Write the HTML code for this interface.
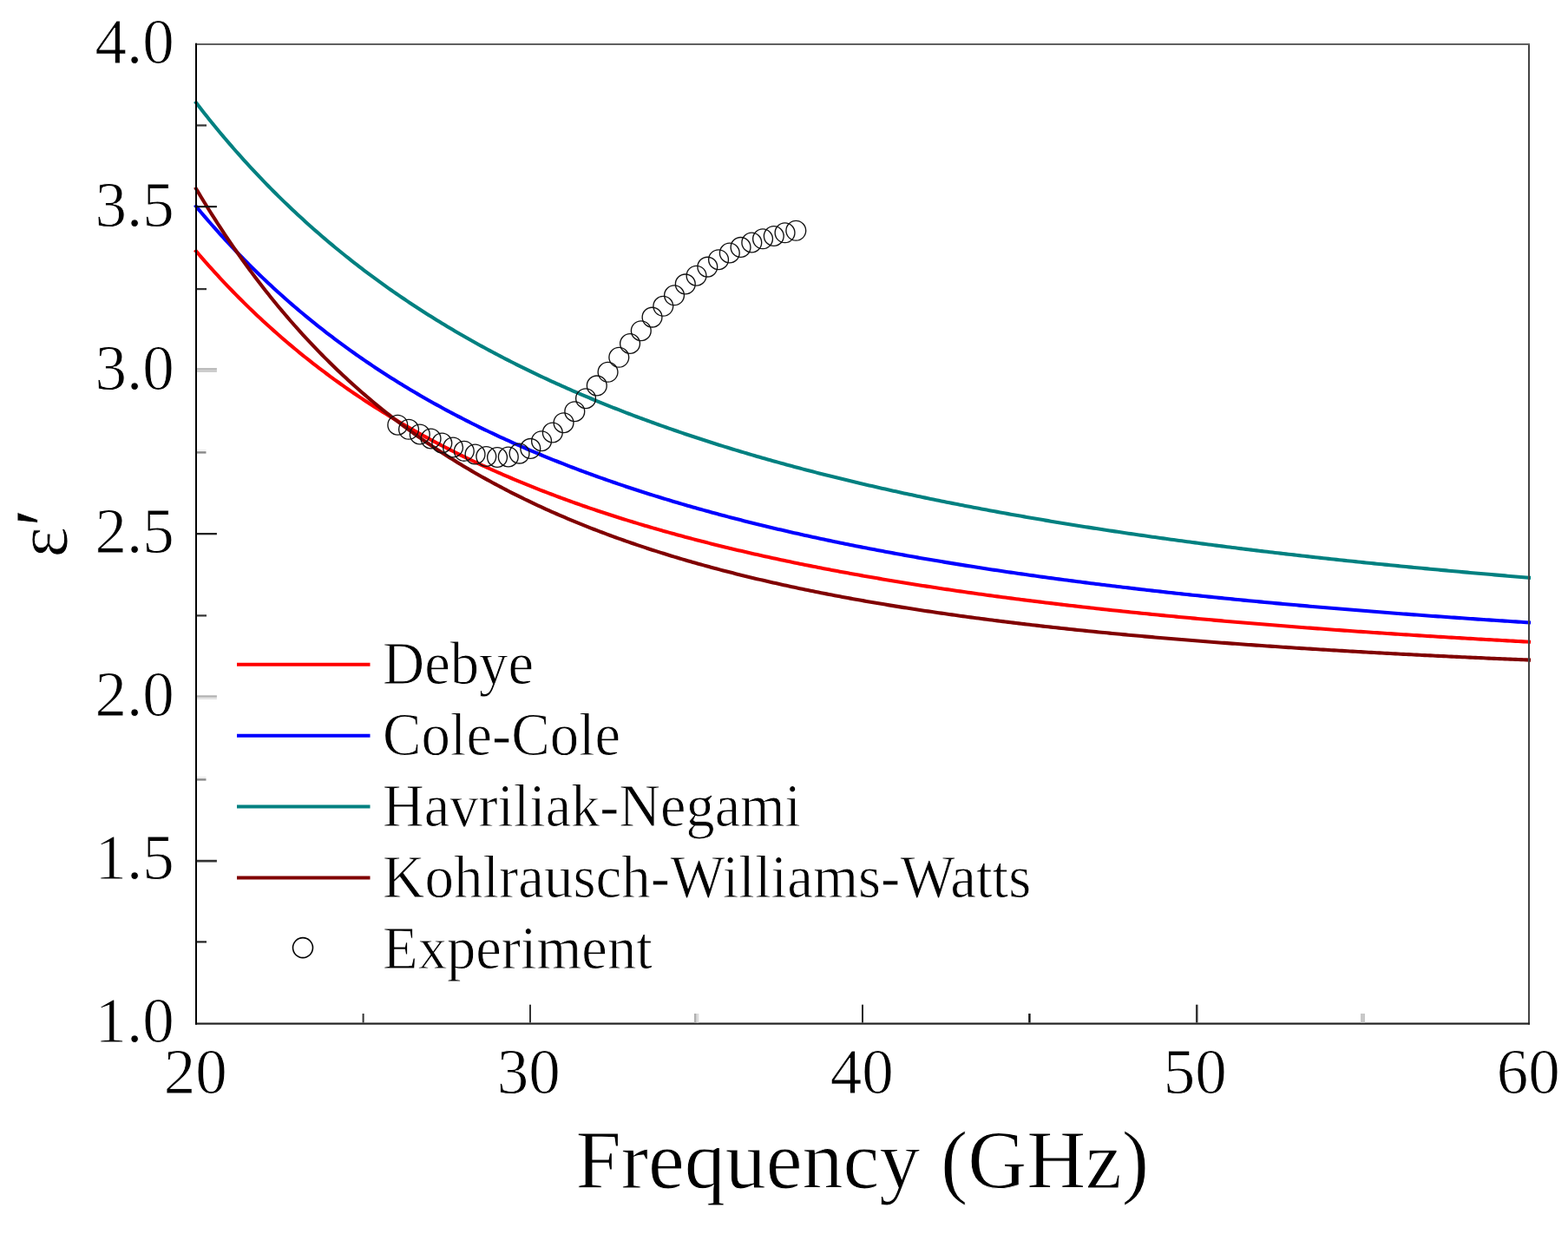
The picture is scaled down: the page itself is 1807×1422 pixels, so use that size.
<!DOCTYPE html>
<html><head><meta charset="utf-8"><title>Permittivity vs Frequency</title>
<style>html,body{margin:0;padding:0;background:#fff;overflow:hidden}svg{display:block}</style>
</head><body>
<svg width="1807" height="1422" viewBox="0 0 1807 1422">
<rect width="1807" height="1422" fill="#ffffff"/>
<path d="M226.00,118.33 L229.08,122.33 L232.16,126.28 L235.23,130.20 L238.31,134.08 L241.39,137.93 L244.47,141.74 L247.55,145.52 L250.63,149.26 L253.70,152.96 L256.78,156.63 L259.86,160.27 L262.94,163.88 L266.02,167.45 L269.09,170.99 L272.17,174.50 L275.25,177.97 L278.33,181.42 L281.41,184.84 L284.48,188.22 L287.56,191.57 L290.64,194.90 L293.72,198.19 L296.80,201.46 L299.88,204.70 L302.95,207.91 L306.03,211.09 L309.11,214.24 L312.19,217.37 L315.27,220.47 L318.34,223.54 L321.42,226.59 L324.50,229.61 L327.58,232.60 L330.66,235.57 L333.74,238.51 L336.81,241.43 L339.89,244.32 L342.97,247.19 L346.05,250.04 L349.13,252.86 L352.20,255.66 L355.28,258.44 L358.36,261.19 L361.44,263.92 L364.52,266.62 L367.60,269.31 L370.67,271.97 L373.75,274.61 L376.83,277.23 L379.91,279.83 L382.99,282.41 L386.06,284.96 L389.14,287.50 L392.22,290.02 L395.30,292.51 L398.38,294.99 L401.45,297.44 L404.53,299.88 L407.61,302.30 L410.69,304.69 L413.77,307.07 L416.85,309.43 L419.92,311.77 L423.00,314.10 L426.08,316.40 L429.16,318.69 L432.24,320.96 L435.31,323.21 L438.39,325.45 L441.47,327.67 L444.55,329.87 L447.63,332.05 L450.71,334.22 L453.78,336.37 L456.86,338.51 L459.94,340.62 L463.02,342.73 L466.10,344.81 L469.17,346.88 L472.25,348.94 L475.33,350.98 L478.41,353.01 L481.49,355.02 L484.57,357.01 L487.64,358.99 L490.72,360.96 L493.80,362.91 L496.88,364.85 L499.96,366.77 L503.03,368.68 L506.11,370.58 L509.19,372.46 L512.27,374.33 L515.35,376.18 L518.42,378.02 L521.50,379.85 L524.58,381.67 L527.66,383.47 L530.74,385.26 L533.82,387.04 L536.89,388.80 L539.97,390.55 L543.05,392.29 L546.13,394.02 L549.21,395.74 L552.28,397.44 L555.36,399.13 L558.44,400.81 L561.52,402.48 L564.60,404.13 L567.68,405.78 L570.75,407.41 L573.83,409.04 L576.91,410.65 L579.99,412.25 L583.07,413.84 L586.14,415.42 L589.22,416.98 L592.30,418.54 L595.38,420.09 L598.46,421.63 L601.54,423.15 L604.61,424.67 L607.69,426.17 L610.77,427.67 L613.85,429.16 L616.93,430.63 L620.00,432.10 L623.08,433.56 L626.16,435.00 L629.24,436.44 L632.32,437.87 L635.39,439.29 L638.47,440.70 L641.55,442.10 L644.63,443.49 L647.71,444.87 L650.79,446.24 L653.86,447.61 L656.94,448.96 L660.02,450.31 L663.10,451.65 L666.18,452.98 L669.25,454.30 L672.33,455.62 L675.41,456.92 L678.49,458.22 L681.57,459.50 L684.65,460.78 L687.72,462.06 L690.80,463.32 L693.88,464.58 L696.96,465.83 L700.04,467.07 L703.11,468.30 L706.19,469.53 L709.27,470.74 L712.35,471.95 L715.43,473.16 L718.51,474.35 L721.58,475.54 L724.66,476.72 L727.74,477.89 L730.82,479.06 L733.90,480.22 L736.97,481.37 L740.05,482.52 L743.13,483.66 L746.21,484.79 L749.29,485.91 L752.36,487.03 L755.44,488.14 L758.52,489.25 L761.60,490.35 L764.68,491.44 L767.76,492.52 L770.83,493.60 L773.91,494.67 L776.99,495.74 L780.07,496.80 L783.15,497.85 L786.22,498.90 L789.30,499.94 L792.38,500.98 L795.46,502.01 L798.54,503.03 L801.62,504.05 L804.69,505.06 L807.77,506.07 L810.85,507.07 L813.93,508.06 L817.01,509.05 L820.08,510.03 L823.16,511.01 L826.24,511.98 L829.32,512.95 L832.40,513.91 L835.47,514.86 L838.55,515.81 L841.63,516.76 L844.71,517.70 L847.79,518.63 L850.87,519.56 L853.94,520.48 L857.02,521.40 L860.10,522.31 L863.18,523.22 L866.26,524.13 L869.33,525.02 L872.41,525.92 L875.49,526.81 L878.57,527.69 L881.65,528.57 L884.73,529.44 L887.80,530.31 L890.88,531.17 L893.96,532.03 L897.04,532.89 L900.12,533.74 L903.19,534.58 L906.27,535.43 L909.35,536.26 L912.43,537.09 L915.51,537.92 L918.59,538.74 L921.66,539.56 L924.74,540.38 L927.82,541.19 L930.90,541.99 L933.98,542.80 L937.05,543.59 L940.13,544.39 L943.21,545.17 L946.29,545.96 L949.37,546.74 L952.44,547.52 L955.52,548.29 L958.60,549.06 L961.68,549.82 L964.76,550.58 L967.84,551.34 L970.91,552.09 L973.99,552.84 L977.07,553.58 L980.15,554.32 L983.23,555.06 L986.30,555.79 L989.38,556.52 L992.46,557.25 L995.54,557.97 L998.62,558.69 L1001.70,559.41 L1004.77,560.12 L1007.85,560.82 L1010.93,561.53 L1014.01,562.23 L1017.09,562.93 L1020.16,563.62 L1023.24,564.31 L1026.32,565.00 L1029.40,565.68 L1032.48,566.36 L1035.56,567.03 L1038.63,567.71 L1041.71,568.38 L1044.79,569.04 L1047.87,569.71 L1050.95,570.37 L1054.02,571.02 L1057.10,571.67 L1060.18,572.32 L1063.26,572.97 L1066.34,573.62 L1069.41,574.26 L1072.49,574.89 L1075.57,575.53 L1078.65,576.16 L1081.73,576.79 L1084.81,577.41 L1087.88,578.03 L1090.96,578.65 L1094.04,579.27 L1097.12,579.88 L1100.20,580.49 L1103.27,581.10 L1106.35,581.70 L1109.43,582.30 L1112.51,582.90 L1115.59,583.50 L1118.67,584.09 L1121.74,584.68 L1124.82,585.27 L1127.90,585.85 L1130.98,586.44 L1134.06,587.01 L1137.13,587.59 L1140.21,588.16 L1143.29,588.74 L1146.37,589.30 L1149.45,589.87 L1152.53,590.43 L1155.60,590.99 L1158.68,591.55 L1161.76,592.11 L1164.84,592.66 L1167.92,593.21 L1170.99,593.76 L1174.07,594.30 L1177.15,594.84 L1180.23,595.38 L1183.31,595.92 L1186.38,596.46 L1189.46,596.99 L1192.54,597.52 L1195.62,598.05 L1198.70,598.57 L1201.78,599.10 L1204.85,599.62 L1207.93,600.13 L1211.01,600.65 L1214.09,601.16 L1217.17,601.68 L1220.24,602.18 L1223.32,602.69 L1226.40,603.20 L1229.48,603.70 L1232.56,604.20 L1235.64,604.70 L1238.71,605.19 L1241.79,605.68 L1244.87,606.18 L1247.95,606.66 L1251.03,607.15 L1254.10,607.64 L1257.18,608.12 L1260.26,608.60 L1263.34,609.08 L1266.42,609.55 L1269.49,610.03 L1272.57,610.50 L1275.65,610.97 L1278.73,611.44 L1281.81,611.90 L1284.89,612.37 L1287.96,612.83 L1291.04,613.29 L1294.12,613.75 L1297.20,614.20 L1300.28,614.66 L1303.35,615.11 L1306.43,615.56 L1309.51,616.01 L1312.59,616.45 L1315.67,616.90 L1318.75,617.34 L1321.82,617.78 L1324.90,618.22 L1327.98,618.66 L1331.06,619.09 L1334.14,619.53 L1337.21,619.96 L1340.29,620.39 L1343.37,620.81 L1346.45,621.24 L1349.53,621.66 L1352.61,622.09 L1355.68,622.51 L1358.76,622.93 L1361.84,623.34 L1364.92,623.76 L1368.00,624.17 L1371.07,624.59 L1374.15,625.00 L1377.23,625.40 L1380.31,625.81 L1383.39,626.22 L1386.46,626.62 L1389.54,627.02 L1392.62,627.42 L1395.70,627.82 L1398.78,628.22 L1401.86,628.61 L1404.93,629.01 L1408.01,629.40 L1411.09,629.79 L1414.17,630.18 L1417.25,630.56 L1420.32,630.95 L1423.40,631.33 L1426.48,631.72 L1429.56,632.10 L1432.64,632.48 L1435.72,632.86 L1438.79,633.23 L1441.87,633.61 L1444.95,633.98 L1448.03,634.35 L1451.11,634.72 L1454.18,635.09 L1457.26,635.46 L1460.34,635.83 L1463.42,636.19 L1466.50,636.55 L1469.58,636.92 L1472.65,637.28 L1475.73,637.64 L1478.81,637.99 L1481.89,638.35 L1484.97,638.70 L1488.04,639.06 L1491.12,639.41 L1494.20,639.76 L1497.28,640.11 L1500.36,640.46 L1503.43,640.80 L1506.51,641.15 L1509.59,641.49 L1512.67,641.84 L1515.75,642.18 L1518.83,642.52 L1521.90,642.86 L1524.98,643.19 L1528.06,643.53 L1531.14,643.86 L1534.22,644.20 L1537.29,644.53 L1540.37,644.86 L1543.45,645.19 L1546.53,645.52 L1549.61,645.84 L1552.69,646.17 L1555.76,646.49 L1558.84,646.82 L1561.92,647.14 L1565.00,647.46 L1568.08,647.78 L1571.15,648.10 L1574.23,648.42 L1577.31,648.73 L1580.39,649.05 L1583.47,649.36 L1586.55,649.67 L1589.62,649.99 L1592.70,650.30 L1595.78,650.60 L1598.86,650.91 L1601.94,651.22 L1605.01,651.53 L1608.09,651.83 L1611.17,652.13 L1614.25,652.44 L1617.33,652.74 L1620.40,653.04 L1623.48,653.34 L1626.56,653.63 L1629.64,653.93 L1632.72,654.23 L1635.80,654.52 L1638.87,654.81 L1641.95,655.11 L1645.03,655.40 L1648.11,655.69 L1651.19,655.98 L1654.26,656.27 L1657.34,656.55 L1660.42,656.84 L1663.50,657.12 L1666.58,657.41 L1669.66,657.69 L1672.73,657.97 L1675.81,658.25 L1678.89,658.53 L1681.97,658.81 L1685.05,659.09 L1688.12,659.37 L1691.20,659.64 L1694.28,659.92 L1697.36,660.19 L1700.44,660.47 L1703.52,660.74 L1706.59,661.01 L1709.67,661.28 L1712.75,661.55 L1715.83,661.82 L1718.91,662.08 L1721.98,662.35 L1725.06,662.61 L1728.14,662.88 L1731.22,663.14 L1734.30,663.41 L1737.37,663.67 L1740.45,663.93 L1743.53,664.19 L1746.61,664.45 L1749.69,664.70 L1752.77,664.96 L1755.84,665.22 L1758.92,665.47 L1762.00,665.73" fill="none" stroke="#008080" stroke-width="4.1" stroke-linecap="square" stroke-linejoin="round"/>
<path d="M226.00,237.88 L229.08,241.57 L232.16,245.22 L235.23,248.84 L238.31,252.42 L241.39,255.97 L244.47,259.48 L247.55,262.97 L250.63,266.41 L253.70,269.83 L256.78,273.21 L259.86,276.57 L262.94,279.89 L266.02,283.18 L269.09,286.44 L272.17,289.67 L275.25,292.87 L278.33,296.04 L281.41,299.18 L284.48,302.29 L287.56,305.37 L290.64,308.43 L293.72,311.45 L296.80,314.45 L299.88,317.43 L302.95,320.37 L306.03,323.29 L309.11,326.18 L312.19,329.05 L315.27,331.89 L318.34,334.71 L321.42,337.50 L324.50,340.26 L327.58,343.01 L330.66,345.72 L333.74,348.42 L336.81,351.09 L339.89,353.73 L342.97,356.36 L346.05,358.96 L349.13,361.53 L352.20,364.09 L355.28,366.62 L358.36,369.13 L361.44,371.62 L364.52,374.09 L367.60,376.54 L370.67,378.96 L373.75,381.37 L376.83,383.76 L379.91,386.12 L382.99,388.46 L386.06,390.79 L389.14,393.10 L392.22,395.38 L395.30,397.65 L398.38,399.90 L401.45,402.13 L404.53,404.34 L407.61,406.53 L410.69,408.70 L413.77,410.86 L416.85,413.00 L419.92,415.12 L423.00,417.22 L426.08,419.31 L429.16,421.38 L432.24,423.43 L435.31,425.47 L438.39,427.49 L441.47,429.49 L444.55,431.48 L447.63,433.45 L450.71,435.40 L453.78,437.34 L456.86,439.27 L459.94,441.18 L463.02,443.07 L466.10,444.95 L469.17,446.81 L472.25,448.66 L475.33,450.50 L478.41,452.32 L481.49,454.12 L484.57,455.91 L487.64,457.69 L490.72,459.46 L493.80,461.21 L496.88,462.94 L499.96,464.67 L503.03,466.38 L506.11,468.07 L509.19,469.76 L512.27,471.43 L515.35,473.09 L518.42,474.73 L521.50,476.37 L524.58,477.99 L527.66,479.60 L530.74,481.19 L533.82,482.78 L536.89,484.35 L539.97,485.91 L543.05,487.46 L546.13,489.00 L549.21,490.53 L552.28,492.04 L555.36,493.55 L558.44,495.04 L561.52,496.52 L564.60,497.99 L567.68,499.45 L570.75,500.90 L573.83,502.34 L576.91,503.77 L579.99,505.19 L583.07,506.59 L586.14,507.99 L589.22,509.38 L592.30,510.76 L595.38,512.12 L598.46,513.48 L601.54,514.83 L604.61,516.17 L607.69,517.50 L610.77,518.82 L613.85,520.13 L616.93,521.43 L620.00,522.72 L623.08,524.00 L626.16,525.28 L629.24,526.54 L632.32,527.80 L635.39,529.05 L638.47,530.28 L641.55,531.51 L644.63,532.73 L647.71,533.95 L650.79,535.15 L653.86,536.35 L656.94,537.54 L660.02,538.72 L663.10,539.89 L666.18,541.05 L669.25,542.21 L672.33,543.36 L675.41,544.50 L678.49,545.63 L681.57,546.75 L684.65,547.87 L687.72,548.98 L690.80,550.08 L693.88,551.18 L696.96,552.27 L700.04,553.35 L703.11,554.42 L706.19,555.48 L709.27,556.54 L712.35,557.60 L715.43,558.64 L718.51,559.68 L721.58,560.71 L724.66,561.73 L727.74,562.75 L730.82,563.76 L733.90,564.77 L736.97,565.77 L740.05,566.76 L743.13,567.74 L746.21,568.72 L749.29,569.69 L752.36,570.66 L755.44,571.62 L758.52,572.58 L761.60,573.52 L764.68,574.46 L767.76,575.40 L770.83,576.33 L773.91,577.25 L776.99,578.17 L780.07,579.08 L783.15,579.99 L786.22,580.89 L789.30,581.79 L792.38,582.68 L795.46,583.56 L798.54,584.44 L801.62,585.31 L804.69,586.18 L807.77,587.04 L810.85,587.90 L813.93,588.75 L817.01,589.60 L820.08,590.44 L823.16,591.27 L826.24,592.10 L829.32,592.93 L832.40,593.75 L835.47,594.57 L838.55,595.38 L841.63,596.18 L844.71,596.98 L847.79,597.78 L850.87,598.57 L853.94,599.36 L857.02,600.14 L860.10,600.92 L863.18,601.69 L866.26,602.46 L869.33,603.22 L872.41,603.98 L875.49,604.73 L878.57,605.48 L881.65,606.23 L884.73,606.97 L887.80,607.71 L890.88,608.44 L893.96,609.17 L897.04,609.89 L900.12,610.61 L903.19,611.32 L906.27,612.03 L909.35,612.74 L912.43,613.44 L915.51,614.14 L918.59,614.84 L921.66,615.53 L924.74,616.21 L927.82,616.90 L930.90,617.58 L933.98,618.25 L937.05,618.92 L940.13,619.59 L943.21,620.25 L946.29,620.91 L949.37,621.57 L952.44,622.22 L955.52,622.87 L958.60,623.51 L961.68,624.15 L964.76,624.79 L967.84,625.43 L970.91,626.06 L973.99,626.68 L977.07,627.31 L980.15,627.93 L983.23,628.54 L986.30,629.16 L989.38,629.76 L992.46,630.37 L995.54,630.97 L998.62,631.57 L1001.70,632.17 L1004.77,632.76 L1007.85,633.35 L1010.93,633.94 L1014.01,634.52 L1017.09,635.10 L1020.16,635.68 L1023.24,636.25 L1026.32,636.82 L1029.40,637.39 L1032.48,637.96 L1035.56,638.52 L1038.63,639.08 L1041.71,639.63 L1044.79,640.18 L1047.87,640.73 L1050.95,641.28 L1054.02,641.82 L1057.10,642.36 L1060.18,642.90 L1063.26,643.44 L1066.34,643.97 L1069.41,644.50 L1072.49,645.03 L1075.57,645.55 L1078.65,646.07 L1081.73,646.59 L1084.81,647.10 L1087.88,647.62 L1090.96,648.13 L1094.04,648.63 L1097.12,649.14 L1100.20,649.64 L1103.27,650.14 L1106.35,650.64 L1109.43,651.13 L1112.51,651.62 L1115.59,652.11 L1118.67,652.60 L1121.74,653.09 L1124.82,653.57 L1127.90,654.05 L1130.98,654.52 L1134.06,655.00 L1137.13,655.47 L1140.21,655.94 L1143.29,656.41 L1146.37,656.87 L1149.45,657.33 L1152.53,657.79 L1155.60,658.25 L1158.68,658.71 L1161.76,659.16 L1164.84,659.61 L1167.92,660.06 L1170.99,660.51 L1174.07,660.95 L1177.15,661.39 L1180.23,661.83 L1183.31,662.27 L1186.38,662.71 L1189.46,663.14 L1192.54,663.57 L1195.62,664.00 L1198.70,664.43 L1201.78,664.85 L1204.85,665.28 L1207.93,665.70 L1211.01,666.11 L1214.09,666.53 L1217.17,666.95 L1220.24,667.36 L1223.32,667.77 L1226.40,668.18 L1229.48,668.58 L1232.56,668.99 L1235.64,669.39 L1238.71,669.79 L1241.79,670.19 L1244.87,670.59 L1247.95,670.98 L1251.03,671.37 L1254.10,671.77 L1257.18,672.16 L1260.26,672.54 L1263.34,672.93 L1266.42,673.31 L1269.49,673.69 L1272.57,674.07 L1275.65,674.45 L1278.73,674.83 L1281.81,675.20 L1284.89,675.58 L1287.96,675.95 L1291.04,676.32 L1294.12,676.68 L1297.20,677.05 L1300.28,677.41 L1303.35,677.78 L1306.43,678.14 L1309.51,678.50 L1312.59,678.85 L1315.67,679.21 L1318.75,679.56 L1321.82,679.92 L1324.90,680.27 L1327.98,680.62 L1331.06,680.96 L1334.14,681.31 L1337.21,681.66 L1340.29,682.00 L1343.37,682.34 L1346.45,682.68 L1349.53,683.02 L1352.61,683.35 L1355.68,683.69 L1358.76,684.02 L1361.84,684.36 L1364.92,684.69 L1368.00,685.01 L1371.07,685.34 L1374.15,685.67 L1377.23,685.99 L1380.31,686.32 L1383.39,686.64 L1386.46,686.96 L1389.54,687.28 L1392.62,687.59 L1395.70,687.91 L1398.78,688.23 L1401.86,688.54 L1404.93,688.85 L1408.01,689.16 L1411.09,689.47 L1414.17,689.78 L1417.25,690.08 L1420.32,690.39 L1423.40,690.69 L1426.48,691.00 L1429.56,691.30 L1432.64,691.60 L1435.72,691.89 L1438.79,692.19 L1441.87,692.49 L1444.95,692.78 L1448.03,693.07 L1451.11,693.37 L1454.18,693.66 L1457.26,693.95 L1460.34,694.23 L1463.42,694.52 L1466.50,694.81 L1469.58,695.09 L1472.65,695.37 L1475.73,695.66 L1478.81,695.94 L1481.89,696.22 L1484.97,696.50 L1488.04,696.77 L1491.12,697.05 L1494.20,697.32 L1497.28,697.60 L1500.36,697.87 L1503.43,698.14 L1506.51,698.41 L1509.59,698.68 L1512.67,698.95 L1515.75,699.21 L1518.83,699.48 L1521.90,699.74 L1524.98,700.01 L1528.06,700.27 L1531.14,700.53 L1534.22,700.79 L1537.29,701.05 L1540.37,701.31 L1543.45,701.57 L1546.53,701.82 L1549.61,702.08 L1552.69,702.33 L1555.76,702.58 L1558.84,702.83 L1561.92,703.08 L1565.00,703.33 L1568.08,703.58 L1571.15,703.83 L1574.23,704.08 L1577.31,704.32 L1580.39,704.57 L1583.47,704.81 L1586.55,705.05 L1589.62,705.29 L1592.70,705.53 L1595.78,705.77 L1598.86,706.01 L1601.94,706.25 L1605.01,706.49 L1608.09,706.72 L1611.17,706.96 L1614.25,707.19 L1617.33,707.42 L1620.40,707.65 L1623.48,707.88 L1626.56,708.11 L1629.64,708.34 L1632.72,708.57 L1635.80,708.80 L1638.87,709.03 L1641.95,709.25 L1645.03,709.48 L1648.11,709.70 L1651.19,709.92 L1654.26,710.14 L1657.34,710.36 L1660.42,710.58 L1663.50,710.80 L1666.58,711.02 L1669.66,711.24 L1672.73,711.46 L1675.81,711.67 L1678.89,711.89 L1681.97,712.10 L1685.05,712.31 L1688.12,712.53 L1691.20,712.74 L1694.28,712.95 L1697.36,713.16 L1700.44,713.37 L1703.52,713.58 L1706.59,713.78 L1709.67,713.99 L1712.75,714.20 L1715.83,714.40 L1718.91,714.61 L1721.98,714.81 L1725.06,715.01 L1728.14,715.21 L1731.22,715.42 L1734.30,715.62 L1737.37,715.82 L1740.45,716.01 L1743.53,716.21 L1746.61,716.41 L1749.69,716.61 L1752.77,716.80 L1755.84,717.00 L1758.92,717.19 L1762.00,717.39" fill="none" stroke="#0000ff" stroke-width="4.1" stroke-linecap="square" stroke-linejoin="round"/>
<path d="M226.00,289.43 L229.08,293.02 L232.16,296.58 L235.23,300.11 L238.31,303.60 L241.39,307.05 L244.47,310.48 L247.55,313.87 L250.63,317.23 L253.70,320.55 L256.78,323.85 L259.86,327.11 L262.94,330.34 L266.02,333.54 L269.09,336.71 L272.17,339.85 L275.25,342.96 L278.33,346.05 L281.41,349.10 L284.48,352.12 L287.56,355.12 L290.64,358.08 L293.72,361.02 L296.80,363.94 L299.88,366.82 L302.95,369.68 L306.03,372.51 L309.11,375.32 L312.19,378.10 L315.27,380.85 L318.34,383.58 L321.42,386.29 L324.50,388.97 L327.58,391.62 L330.66,394.25 L333.74,396.86 L336.81,399.44 L339.89,402.00 L342.97,404.54 L346.05,407.06 L349.13,409.55 L352.20,412.02 L355.28,414.47 L358.36,416.89 L361.44,419.30 L364.52,421.68 L367.60,424.04 L370.67,426.38 L373.75,428.71 L376.83,431.01 L379.91,433.29 L382.99,435.55 L386.06,437.79 L389.14,440.01 L392.22,442.21 L395.30,444.39 L398.38,446.56 L401.45,448.70 L404.53,450.83 L407.61,452.94 L410.69,455.03 L413.77,457.10 L416.85,459.15 L419.92,461.19 L423.00,463.21 L426.08,465.22 L429.16,467.20 L432.24,469.17 L435.31,471.12 L438.39,473.06 L441.47,474.98 L444.55,476.88 L447.63,478.77 L450.71,480.65 L453.78,482.50 L456.86,484.34 L459.94,486.17 L463.02,487.98 L466.10,489.78 L469.17,491.56 L472.25,493.33 L475.33,495.08 L478.41,496.82 L481.49,498.54 L484.57,500.25 L487.64,501.95 L490.72,503.63 L493.80,505.30 L496.88,506.96 L499.96,508.60 L503.03,510.23 L506.11,511.85 L509.19,513.45 L512.27,515.04 L515.35,516.62 L518.42,518.18 L521.50,519.74 L524.58,521.28 L527.66,522.81 L530.74,524.32 L533.82,525.83 L536.89,527.32 L539.97,528.80 L543.05,530.27 L546.13,531.73 L549.21,533.18 L552.28,534.61 L555.36,536.04 L558.44,537.45 L561.52,538.85 L564.60,540.25 L567.68,541.63 L570.75,543.00 L573.83,544.36 L576.91,545.71 L579.99,547.05 L583.07,548.38 L586.14,549.70 L589.22,551.01 L592.30,552.31 L595.38,553.60 L598.46,554.88 L601.54,556.15 L604.61,557.41 L607.69,558.67 L610.77,559.91 L613.85,561.14 L616.93,562.37 L620.00,563.58 L623.08,564.79 L626.16,565.99 L629.24,567.18 L632.32,568.36 L635.39,569.53 L638.47,570.69 L641.55,571.84 L644.63,572.99 L647.71,574.13 L650.79,575.26 L653.86,576.38 L656.94,577.49 L660.02,578.60 L663.10,579.70 L666.18,580.79 L669.25,581.87 L672.33,582.94 L675.41,584.01 L678.49,585.07 L681.57,586.12 L684.65,587.16 L687.72,588.20 L690.80,589.23 L693.88,590.25 L696.96,591.27 L700.04,592.27 L703.11,593.27 L706.19,594.27 L709.27,595.26 L712.35,596.24 L715.43,597.21 L718.51,598.18 L721.58,599.13 L724.66,600.09 L727.74,601.04 L730.82,601.98 L733.90,602.91 L736.97,603.84 L740.05,604.76 L743.13,605.67 L746.21,606.58 L749.29,607.48 L752.36,608.38 L755.44,609.27 L758.52,610.15 L761.60,611.03 L764.68,611.91 L767.76,612.77 L770.83,613.63 L773.91,614.49 L776.99,615.34 L780.07,616.18 L783.15,617.02 L786.22,617.85 L789.30,618.68 L792.38,619.50 L795.46,620.32 L798.54,621.13 L801.62,621.93 L804.69,622.74 L807.77,623.53 L810.85,624.32 L813.93,625.11 L817.01,625.88 L820.08,626.66 L823.16,627.43 L826.24,628.19 L829.32,628.95 L832.40,629.71 L835.47,630.46 L838.55,631.20 L841.63,631.94 L844.71,632.68 L847.79,633.41 L850.87,634.14 L853.94,634.86 L857.02,635.58 L860.10,636.29 L863.18,637.00 L866.26,637.70 L869.33,638.40 L872.41,639.10 L875.49,639.79 L878.57,640.47 L881.65,641.16 L884.73,641.83 L887.80,642.51 L890.88,643.18 L893.96,643.84 L897.04,644.50 L900.12,645.16 L903.19,645.81 L906.27,646.46 L909.35,647.11 L912.43,647.75 L915.51,648.39 L918.59,649.02 L921.66,649.65 L924.74,650.27 L927.82,650.90 L930.90,651.51 L933.98,652.13 L937.05,652.74 L940.13,653.35 L943.21,653.95 L946.29,654.55 L949.37,655.14 L952.44,655.74 L955.52,656.33 L958.60,656.91 L961.68,657.49 L964.76,658.07 L967.84,658.65 L970.91,659.22 L973.99,659.79 L977.07,660.35 L980.15,660.91 L983.23,661.47 L986.30,662.03 L989.38,662.58 L992.46,663.13 L995.54,663.67 L998.62,664.22 L1001.70,664.75 L1004.77,665.29 L1007.85,665.82 L1010.93,666.35 L1014.01,666.88 L1017.09,667.40 L1020.16,667.92 L1023.24,668.44 L1026.32,668.96 L1029.40,669.47 L1032.48,669.98 L1035.56,670.48 L1038.63,670.99 L1041.71,671.49 L1044.79,671.98 L1047.87,672.48 L1050.95,672.97 L1054.02,673.46 L1057.10,673.95 L1060.18,674.43 L1063.26,674.91 L1066.34,675.39 L1069.41,675.86 L1072.49,676.34 L1075.57,676.81 L1078.65,677.27 L1081.73,677.74 L1084.81,678.20 L1087.88,678.66 L1090.96,679.12 L1094.04,679.57 L1097.12,680.03 L1100.20,680.48 L1103.27,680.92 L1106.35,681.37 L1109.43,681.81 L1112.51,682.25 L1115.59,682.69 L1118.67,683.12 L1121.74,683.56 L1124.82,683.99 L1127.90,684.41 L1130.98,684.84 L1134.06,685.26 L1137.13,685.69 L1140.21,686.10 L1143.29,686.52 L1146.37,686.94 L1149.45,687.35 L1152.53,687.76 L1155.60,688.17 L1158.68,688.57 L1161.76,688.98 L1164.84,689.38 L1167.92,689.78 L1170.99,690.17 L1174.07,690.57 L1177.15,690.96 L1180.23,691.35 L1183.31,691.74 L1186.38,692.13 L1189.46,692.51 L1192.54,692.90 L1195.62,693.28 L1198.70,693.65 L1201.78,694.03 L1204.85,694.41 L1207.93,694.78 L1211.01,695.15 L1214.09,695.52 L1217.17,695.89 L1220.24,696.25 L1223.32,696.62 L1226.40,696.98 L1229.48,697.34 L1232.56,697.69 L1235.64,698.05 L1238.71,698.40 L1241.79,698.76 L1244.87,699.11 L1247.95,699.46 L1251.03,699.80 L1254.10,700.15 L1257.18,700.49 L1260.26,700.83 L1263.34,701.17 L1266.42,701.51 L1269.49,701.85 L1272.57,702.18 L1275.65,702.52 L1278.73,702.85 L1281.81,703.18 L1284.89,703.51 L1287.96,703.83 L1291.04,704.16 L1294.12,704.48 L1297.20,704.80 L1300.28,705.12 L1303.35,705.44 L1306.43,705.76 L1309.51,706.08 L1312.59,706.39 L1315.67,706.70 L1318.75,707.01 L1321.82,707.32 L1324.90,707.63 L1327.98,707.94 L1331.06,708.24 L1334.14,708.54 L1337.21,708.85 L1340.29,709.15 L1343.37,709.45 L1346.45,709.74 L1349.53,710.04 L1352.61,710.33 L1355.68,710.63 L1358.76,710.92 L1361.84,711.21 L1364.92,711.50 L1368.00,711.79 L1371.07,712.07 L1374.15,712.36 L1377.23,712.64 L1380.31,712.92 L1383.39,713.20 L1386.46,713.48 L1389.54,713.76 L1392.62,714.04 L1395.70,714.31 L1398.78,714.59 L1401.86,714.86 L1404.93,715.13 L1408.01,715.40 L1411.09,715.67 L1414.17,715.94 L1417.25,716.21 L1420.32,716.47 L1423.40,716.74 L1426.48,717.00 L1429.56,717.26 L1432.64,717.52 L1435.72,717.78 L1438.79,718.04 L1441.87,718.30 L1444.95,718.55 L1448.03,718.81 L1451.11,719.06 L1454.18,719.31 L1457.26,719.56 L1460.34,719.81 L1463.42,720.06 L1466.50,720.31 L1469.58,720.55 L1472.65,720.80 L1475.73,721.04 L1478.81,721.29 L1481.89,721.53 L1484.97,721.77 L1488.04,722.01 L1491.12,722.25 L1494.20,722.49 L1497.28,722.72 L1500.36,722.96 L1503.43,723.19 L1506.51,723.43 L1509.59,723.66 L1512.67,723.89 L1515.75,724.12 L1518.83,724.35 L1521.90,724.58 L1524.98,724.80 L1528.06,725.03 L1531.14,725.26 L1534.22,725.48 L1537.29,725.70 L1540.37,725.93 L1543.45,726.15 L1546.53,726.37 L1549.61,726.59 L1552.69,726.80 L1555.76,727.02 L1558.84,727.24 L1561.92,727.45 L1565.00,727.67 L1568.08,727.88 L1571.15,728.09 L1574.23,728.31 L1577.31,728.52 L1580.39,728.73 L1583.47,728.94 L1586.55,729.14 L1589.62,729.35 L1592.70,729.56 L1595.78,729.76 L1598.86,729.97 L1601.94,730.17 L1605.01,730.37 L1608.09,730.58 L1611.17,730.78 L1614.25,730.98 L1617.33,731.18 L1620.40,731.37 L1623.48,731.57 L1626.56,731.77 L1629.64,731.96 L1632.72,732.16 L1635.80,732.35 L1638.87,732.55 L1641.95,732.74 L1645.03,732.93 L1648.11,733.12 L1651.19,733.31 L1654.26,733.50 L1657.34,733.69 L1660.42,733.88 L1663.50,734.07 L1666.58,734.25 L1669.66,734.44 L1672.73,734.62 L1675.81,734.81 L1678.89,734.99 L1681.97,735.17 L1685.05,735.35 L1688.12,735.53 L1691.20,735.71 L1694.28,735.89 L1697.36,736.07 L1700.44,736.25 L1703.52,736.43 L1706.59,736.60 L1709.67,736.78 L1712.75,736.95 L1715.83,737.13 L1718.91,737.30 L1721.98,737.48 L1725.06,737.65 L1728.14,737.82 L1731.22,737.99 L1734.30,738.16 L1737.37,738.33 L1740.45,738.50 L1743.53,738.67 L1746.61,738.83 L1749.69,739.00 L1752.77,739.17 L1755.84,739.33 L1758.92,739.50 L1762.00,739.66" fill="none" stroke="#ff0000" stroke-width="4.1" stroke-linecap="square" stroke-linejoin="round"/>
<path d="M226.00,217.44 L229.08,222.61 L232.16,227.72 L235.23,232.78 L238.31,237.78 L241.39,242.73 L244.47,247.62 L247.55,252.46 L250.63,257.24 L253.70,261.97 L256.78,266.65 L259.86,271.28 L262.94,275.85 L266.02,280.38 L269.09,284.86 L272.17,289.29 L275.25,293.67 L278.33,298.00 L281.41,302.29 L284.48,306.53 L287.56,310.72 L290.64,314.87 L293.72,318.97 L296.80,323.03 L299.88,327.04 L302.95,331.02 L306.03,334.95 L309.11,338.83 L312.19,342.68 L315.27,346.48 L318.34,350.25 L321.42,353.97 L324.50,357.66 L327.58,361.30 L330.66,364.91 L333.74,368.48 L336.81,372.01 L339.89,375.50 L342.97,378.96 L346.05,382.38 L349.13,385.76 L352.20,389.11 L355.28,392.42 L358.36,395.70 L361.44,398.95 L364.52,402.16 L367.60,405.34 L370.67,408.48 L373.75,411.59 L376.83,414.67 L379.91,417.72 L382.99,420.74 L386.06,423.72 L389.14,426.68 L392.22,429.60 L395.30,432.50 L398.38,435.36 L401.45,438.20 L404.53,441.01 L407.61,443.79 L410.69,446.54 L413.77,449.26 L416.85,451.96 L419.92,454.63 L423.00,457.27 L426.08,459.88 L429.16,462.47 L432.24,465.03 L435.31,467.57 L438.39,470.08 L441.47,472.57 L444.55,475.03 L447.63,477.47 L450.71,479.88 L453.78,482.27 L456.86,484.64 L459.94,486.98 L463.02,489.30 L466.10,491.60 L469.17,493.88 L472.25,496.13 L475.33,498.36 L478.41,500.57 L481.49,502.76 L484.57,504.92 L487.64,507.07 L490.72,509.19 L493.80,511.30 L496.88,513.38 L499.96,515.45 L503.03,517.49 L506.11,519.52 L509.19,521.52 L512.27,523.51 L515.35,525.47 L518.42,527.42 L521.50,529.35 L524.58,531.27 L527.66,533.16 L530.74,535.04 L533.82,536.90 L536.89,538.74 L539.97,540.56 L543.05,542.37 L546.13,544.16 L549.21,545.93 L552.28,547.69 L555.36,549.43 L558.44,551.16 L561.52,552.87 L564.60,554.56 L567.68,556.24 L570.75,557.90 L573.83,559.55 L576.91,561.18 L579.99,562.80 L583.07,564.40 L586.14,565.99 L589.22,567.56 L592.30,569.12 L595.38,570.66 L598.46,572.20 L601.54,573.71 L604.61,575.22 L607.69,576.71 L610.77,578.18 L613.85,579.65 L616.93,581.10 L620.00,582.54 L623.08,583.96 L626.16,585.38 L629.24,586.78 L632.32,588.16 L635.39,589.54 L638.47,590.90 L641.55,592.25 L644.63,593.59 L647.71,594.92 L650.79,596.24 L653.86,597.54 L656.94,598.84 L660.02,600.12 L663.10,601.39 L666.18,602.65 L669.25,603.90 L672.33,605.14 L675.41,606.37 L678.49,607.59 L681.57,608.79 L684.65,609.99 L687.72,611.18 L690.80,612.36 L693.88,613.52 L696.96,614.68 L700.04,615.83 L703.11,616.96 L706.19,618.09 L709.27,619.21 L712.35,620.32 L715.43,621.42 L718.51,622.51 L721.58,623.59 L724.66,624.66 L727.74,625.73 L730.82,626.78 L733.90,627.83 L736.97,628.87 L740.05,629.90 L743.13,630.92 L746.21,631.93 L749.29,632.93 L752.36,633.93 L755.44,634.92 L758.52,635.90 L761.60,636.87 L764.68,637.83 L767.76,638.79 L770.83,639.73 L773.91,640.68 L776.99,641.61 L780.07,642.53 L783.15,643.45 L786.22,644.36 L789.30,645.27 L792.38,646.16 L795.46,647.05 L798.54,647.93 L801.62,648.81 L804.69,649.68 L807.77,650.54 L810.85,651.39 L813.93,652.24 L817.01,653.08 L820.08,653.92 L823.16,654.74 L826.24,655.56 L829.32,656.38 L832.40,657.19 L835.47,657.99 L838.55,658.79 L841.63,659.58 L844.71,660.36 L847.79,661.14 L850.87,661.91 L853.94,662.68 L857.02,663.44 L860.10,664.19 L863.18,664.94 L866.26,665.68 L869.33,666.42 L872.41,667.15 L875.49,667.88 L878.57,668.60 L881.65,669.31 L884.73,670.02 L887.80,670.73 L890.88,671.43 L893.96,672.12 L897.04,672.81 L900.12,673.49 L903.19,674.17 L906.27,674.85 L909.35,675.51 L912.43,676.18 L915.51,676.84 L918.59,677.49 L921.66,678.14 L924.74,678.78 L927.82,679.42 L930.90,680.06 L933.98,680.69 L937.05,681.31 L940.13,681.93 L943.21,682.55 L946.29,683.16 L949.37,683.77 L952.44,684.37 L955.52,684.97 L958.60,685.56 L961.68,686.15 L964.76,686.74 L967.84,687.32 L970.91,687.90 L973.99,688.47 L977.07,689.04 L980.15,689.61 L983.23,690.17 L986.30,690.72 L989.38,691.28 L992.46,691.83 L995.54,692.37 L998.62,692.91 L1001.70,693.45 L1004.77,693.99 L1007.85,694.52 L1010.93,695.04 L1014.01,695.57 L1017.09,696.08 L1020.16,696.60 L1023.24,697.11 L1026.32,697.62 L1029.40,698.13 L1032.48,698.63 L1035.56,699.12 L1038.63,699.62 L1041.71,700.11 L1044.79,700.60 L1047.87,701.08 L1050.95,701.56 L1054.02,702.04 L1057.10,702.52 L1060.18,702.99 L1063.26,703.45 L1066.34,703.92 L1069.41,704.38 L1072.49,704.84 L1075.57,705.29 L1078.65,705.75 L1081.73,706.20 L1084.81,706.64 L1087.88,707.09 L1090.96,707.53 L1094.04,707.96 L1097.12,708.40 L1100.20,708.83 L1103.27,709.26 L1106.35,709.68 L1109.43,710.11 L1112.51,710.53 L1115.59,710.95 L1118.67,711.36 L1121.74,711.77 L1124.82,712.18 L1127.90,712.59 L1130.98,712.99 L1134.06,713.39 L1137.13,713.79 L1140.21,714.19 L1143.29,714.58 L1146.37,714.97 L1149.45,715.36 L1152.53,715.75 L1155.60,716.13 L1158.68,716.51 L1161.76,716.89 L1164.84,717.27 L1167.92,717.64 L1170.99,718.01 L1174.07,718.38 L1177.15,718.75 L1180.23,719.11 L1183.31,719.47 L1186.38,719.83 L1189.46,720.19 L1192.54,720.54 L1195.62,720.90 L1198.70,721.25 L1201.78,721.59 L1204.85,721.94 L1207.93,722.28 L1211.01,722.63 L1214.09,722.97 L1217.17,723.30 L1220.24,723.64 L1223.32,723.97 L1226.40,724.30 L1229.48,724.63 L1232.56,724.96 L1235.64,725.28 L1238.71,725.61 L1241.79,725.93 L1244.87,726.25 L1247.95,726.56 L1251.03,726.88 L1254.10,727.19 L1257.18,727.50 L1260.26,727.81 L1263.34,728.12 L1266.42,728.43 L1269.49,728.73 L1272.57,729.03 L1275.65,729.33 L1278.73,729.63 L1281.81,729.93 L1284.89,730.22 L1287.96,730.51 L1291.04,730.80 L1294.12,731.09 L1297.20,731.38 L1300.28,731.67 L1303.35,731.95 L1306.43,732.23 L1309.51,732.51 L1312.59,732.79 L1315.67,733.07 L1318.75,733.35 L1321.82,733.62 L1324.90,733.89 L1327.98,734.16 L1331.06,734.43 L1334.14,734.70 L1337.21,734.97 L1340.29,735.23 L1343.37,735.50 L1346.45,735.76 L1349.53,736.02 L1352.61,736.27 L1355.68,736.53 L1358.76,736.79 L1361.84,737.04 L1364.92,737.29 L1368.00,737.54 L1371.07,737.79 L1374.15,738.04 L1377.23,738.29 L1380.31,738.53 L1383.39,738.78 L1386.46,739.02 L1389.54,739.26 L1392.62,739.50 L1395.70,739.74 L1398.78,739.98 L1401.86,740.21 L1404.93,740.45 L1408.01,740.68 L1411.09,740.91 L1414.17,741.14 L1417.25,741.37 L1420.32,741.60 L1423.40,741.82 L1426.48,742.05 L1429.56,742.27 L1432.64,742.49 L1435.72,742.72 L1438.79,742.94 L1441.87,743.15 L1444.95,743.37 L1448.03,743.59 L1451.11,743.80 L1454.18,744.02 L1457.26,744.23 L1460.34,744.44 L1463.42,744.65 L1466.50,744.86 L1469.58,745.07 L1472.65,745.28 L1475.73,745.48 L1478.81,745.69 L1481.89,745.89 L1484.97,746.09 L1488.04,746.29 L1491.12,746.49 L1494.20,746.69 L1497.28,746.89 L1500.36,747.09 L1503.43,747.28 L1506.51,747.48 L1509.59,747.67 L1512.67,747.86 L1515.75,748.06 L1518.83,748.25 L1521.90,748.44 L1524.98,748.63 L1528.06,748.81 L1531.14,749.00 L1534.22,749.18 L1537.29,749.37 L1540.37,749.55 L1543.45,749.74 L1546.53,749.92 L1549.61,750.10 L1552.69,750.28 L1555.76,750.46 L1558.84,750.63 L1561.92,750.81 L1565.00,750.99 L1568.08,751.16 L1571.15,751.34 L1574.23,751.51 L1577.31,751.68 L1580.39,751.85 L1583.47,752.02 L1586.55,752.19 L1589.62,752.36 L1592.70,752.53 L1595.78,752.70 L1598.86,752.86 L1601.94,753.03 L1605.01,753.19 L1608.09,753.35 L1611.17,753.52 L1614.25,753.68 L1617.33,753.84 L1620.40,754.00 L1623.48,754.16 L1626.56,754.32 L1629.64,754.47 L1632.72,754.63 L1635.80,754.79 L1638.87,754.94 L1641.95,755.10 L1645.03,755.25 L1648.11,755.40 L1651.19,755.55 L1654.26,755.71 L1657.34,755.86 L1660.42,756.01 L1663.50,756.16 L1666.58,756.30 L1669.66,756.45 L1672.73,756.60 L1675.81,756.74 L1678.89,756.89 L1681.97,757.03 L1685.05,757.18 L1688.12,757.32 L1691.20,757.46 L1694.28,757.60 L1697.36,757.75 L1700.44,757.89 L1703.52,758.02 L1706.59,758.16 L1709.67,758.30 L1712.75,758.44 L1715.83,758.58 L1718.91,758.71 L1721.98,758.85 L1725.06,758.98 L1728.14,759.12 L1731.22,759.25 L1734.30,759.38 L1737.37,759.51 L1740.45,759.65 L1743.53,759.78 L1746.61,759.91 L1749.69,760.04 L1752.77,760.17 L1755.84,760.29 L1758.92,760.42 L1762.00,760.55" fill="none" stroke="#800000" stroke-width="4.1" stroke-linecap="square" stroke-linejoin="round"/>
<circle cx="458.30" cy="489.70" r="11.4" fill="none" stroke="#111" stroke-width="1.35"/>
<circle cx="471.05" cy="494.80" r="11.4" fill="none" stroke="#111" stroke-width="1.35"/>
<circle cx="483.80" cy="500.50" r="11.4" fill="none" stroke="#111" stroke-width="1.35"/>
<circle cx="496.55" cy="505.50" r="11.4" fill="none" stroke="#111" stroke-width="1.35"/>
<circle cx="509.30" cy="510.50" r="11.4" fill="none" stroke="#111" stroke-width="1.35"/>
<circle cx="522.05" cy="515.50" r="11.4" fill="none" stroke="#111" stroke-width="1.35"/>
<circle cx="534.80" cy="519.80" r="11.4" fill="none" stroke="#111" stroke-width="1.35"/>
<circle cx="547.55" cy="523.50" r="11.4" fill="none" stroke="#111" stroke-width="1.35"/>
<circle cx="560.30" cy="526.00" r="11.4" fill="none" stroke="#111" stroke-width="1.35"/>
<circle cx="573.05" cy="527.00" r="11.4" fill="none" stroke="#111" stroke-width="1.35"/>
<circle cx="585.80" cy="526.50" r="11.4" fill="none" stroke="#111" stroke-width="1.35"/>
<circle cx="598.55" cy="522.60" r="11.4" fill="none" stroke="#111" stroke-width="1.35"/>
<circle cx="611.30" cy="516.90" r="11.4" fill="none" stroke="#111" stroke-width="1.35"/>
<circle cx="624.05" cy="508.20" r="11.4" fill="none" stroke="#111" stroke-width="1.35"/>
<circle cx="636.80" cy="498.50" r="11.4" fill="none" stroke="#111" stroke-width="1.35"/>
<circle cx="649.55" cy="487.20" r="11.4" fill="none" stroke="#111" stroke-width="1.35"/>
<circle cx="662.30" cy="474.20" r="11.4" fill="none" stroke="#111" stroke-width="1.35"/>
<circle cx="675.05" cy="459.20" r="11.4" fill="none" stroke="#111" stroke-width="1.35"/>
<circle cx="687.80" cy="444.40" r="11.4" fill="none" stroke="#111" stroke-width="1.35"/>
<circle cx="700.55" cy="428.80" r="11.4" fill="none" stroke="#111" stroke-width="1.35"/>
<circle cx="713.30" cy="411.80" r="11.4" fill="none" stroke="#111" stroke-width="1.35"/>
<circle cx="726.05" cy="396.00" r="11.4" fill="none" stroke="#111" stroke-width="1.35"/>
<circle cx="738.80" cy="381.20" r="11.4" fill="none" stroke="#111" stroke-width="1.35"/>
<circle cx="751.55" cy="365.60" r="11.4" fill="none" stroke="#111" stroke-width="1.35"/>
<circle cx="764.30" cy="352.80" r="11.4" fill="none" stroke="#111" stroke-width="1.35"/>
<circle cx="777.05" cy="340.30" r="11.4" fill="none" stroke="#111" stroke-width="1.35"/>
<circle cx="789.80" cy="327.40" r="11.4" fill="none" stroke="#111" stroke-width="1.35"/>
<circle cx="802.55" cy="317.70" r="11.4" fill="none" stroke="#111" stroke-width="1.35"/>
<circle cx="815.30" cy="307.60" r="11.4" fill="none" stroke="#111" stroke-width="1.35"/>
<circle cx="828.05" cy="299.20" r="11.4" fill="none" stroke="#111" stroke-width="1.35"/>
<circle cx="840.80" cy="291.50" r="11.4" fill="none" stroke="#111" stroke-width="1.35"/>
<circle cx="853.55" cy="284.90" r="11.4" fill="none" stroke="#111" stroke-width="1.35"/>
<circle cx="866.30" cy="279.50" r="11.4" fill="none" stroke="#111" stroke-width="1.35"/>
<circle cx="879.05" cy="275.30" r="11.4" fill="none" stroke="#111" stroke-width="1.35"/>
<circle cx="891.80" cy="272.00" r="11.4" fill="none" stroke="#111" stroke-width="1.35"/>
<circle cx="904.55" cy="268.30" r="11.4" fill="none" stroke="#111" stroke-width="1.35"/>
<circle cx="917.30" cy="265.80" r="11.4" fill="none" stroke="#111" stroke-width="1.35"/>
<rect x="1761" y="50" width="2" height="1130.7" fill="#444"/>
<rect x="225" y="50" width="1538" height="2" fill="#606060"/>
<rect x="225" y="1178.5" width="1538" height="2.2" fill="#222"/>
<rect x="225" y="49.7" width="2" height="1131" fill="#000"/>
<rect x="417.6" y="1168" width="2.00" height="10.50" fill="#333"/>
<rect x="610" y="1157.7" width="2.00" height="20.80" fill="#333"/>
<rect x="800" y="1168" width="2.70" height="10.50" fill="#b0b0b0"/>
<rect x="802.7" y="1168" width="2.70" height="10.50" fill="#dcdcdc"/>
<rect x="993" y="1157.7" width="2.00" height="20.80" fill="#222"/>
<rect x="1185.2" y="1168" width="2.40" height="10.50" fill="#111"/>
<rect x="1378" y="1157.7" width="2.50" height="20.80" fill="#333"/>
<rect x="1568" y="1168" width="5.00" height="10.50" fill="#c8c8c8"/>
<rect x="227" y="1084.3" width="11" height="2.20" fill="#222"/>
<rect x="227" y="990.8" width="22.9" height="2.70" fill="#333"/>
<rect x="227" y="895" width="10.5" height="1.60" fill="#eaeaea"/>
<rect x="227" y="897.2" width="10.5" height="2.40" fill="#888"/>
<rect x="227" y="801.3" width="22.9" height="2.40" fill="#b2b2b2"/>
<rect x="227" y="804.2" width="22.9" height="1.70" fill="#e0e0e0"/>
<rect x="227" y="708.3" width="11" height="2.20" fill="#333"/>
<rect x="227" y="614" width="22.9" height="2.30" fill="#222"/>
<rect x="227" y="518" width="10.5" height="1.50" fill="#eeeeee"/>
<rect x="227" y="520.2" width="10.5" height="2.40" fill="#888"/>
<rect x="227" y="424.1" width="22.9" height="2.40" fill="#b8b8b8"/>
<rect x="227" y="426.5" width="22.9" height="2.30" fill="#c8c8c8"/>
<rect x="227" y="332" width="11" height="2.20" fill="#333"/>
<rect x="227" y="237.1" width="22.9" height="2.10" fill="#111"/>
<rect x="227" y="143.4" width="11" height="2.20" fill="#333"/>
<text x="200.8" y="1201.10" font-family="'Liberation Serif','Times New Roman',serif" font-size="73" text-anchor="end" stroke="#fff" stroke-width="0.9">1.0</text>
<text x="200.8" y="1013.00" font-family="'Liberation Serif','Times New Roman',serif" font-size="73" text-anchor="end" stroke="#fff" stroke-width="0.9">1.5</text>
<text x="200.8" y="824.90" font-family="'Liberation Serif','Times New Roman',serif" font-size="73" text-anchor="end" stroke="#fff" stroke-width="0.9">2.0</text>
<text x="200.8" y="636.80" font-family="'Liberation Serif','Times New Roman',serif" font-size="73" text-anchor="end" stroke="#fff" stroke-width="0.9">2.5</text>
<text x="200.8" y="448.70" font-family="'Liberation Serif','Times New Roman',serif" font-size="73" text-anchor="end" stroke="#fff" stroke-width="0.9">3.0</text>
<text x="200.8" y="260.60" font-family="'Liberation Serif','Times New Roman',serif" font-size="73" text-anchor="end" stroke="#fff" stroke-width="0.9">3.5</text>
<text x="200.8" y="72.50" font-family="'Liberation Serif','Times New Roman',serif" font-size="73" text-anchor="end" stroke="#fff" stroke-width="0.9">4.0</text>
<text x="225.20" y="1260.4" font-family="'Liberation Serif','Times New Roman',serif" font-size="73" text-anchor="middle" stroke="#fff" stroke-width="0.9">20</text>
<text x="609.20" y="1260.4" font-family="'Liberation Serif','Times New Roman',serif" font-size="73" text-anchor="middle" stroke="#fff" stroke-width="0.9">30</text>
<text x="993.20" y="1260.4" font-family="'Liberation Serif','Times New Roman',serif" font-size="73" text-anchor="middle" stroke="#fff" stroke-width="0.9">40</text>
<text x="1377.20" y="1260.4" font-family="'Liberation Serif','Times New Roman',serif" font-size="73" text-anchor="middle" stroke="#fff" stroke-width="0.9">50</text>
<text x="1761.20" y="1260.4" font-family="'Liberation Serif','Times New Roman',serif" font-size="73" text-anchor="middle" stroke="#fff" stroke-width="0.9">60</text>
<text x="993.8" y="1369.4" font-family="'Liberation Serif','Times New Roman',serif" font-size="95.5" text-anchor="middle" textLength="660.8" lengthAdjust="spacingAndGlyphs" stroke="#fff" stroke-width="1">Frequency (GHz)</text>
<text transform="translate(76.5,614) rotate(-90)" font-family="'Liberation Serif','Times New Roman',serif" font-size="84" text-anchor="middle" stroke="#fff" stroke-width="0.8">ε<tspan font-size="100" dy="8">′</tspan></text>
<line x1="273" y1="765.7" x2="426.5" y2="765.7" stroke="#ff0000" stroke-width="4"/>
<text x="441" y="788.40" font-family="'Liberation Serif','Times New Roman',serif" font-size="69.5" textLength="174.0" lengthAdjust="spacingAndGlyphs" stroke="#fff" stroke-width="0.9">Debye</text>
<line x1="273" y1="847.7" x2="426.5" y2="847.7" stroke="#0000ff" stroke-width="4"/>
<text x="441" y="870.40" font-family="'Liberation Serif','Times New Roman',serif" font-size="69.5" textLength="274.2" lengthAdjust="spacingAndGlyphs" stroke="#fff" stroke-width="0.9">Cole-Cole</text>
<line x1="273" y1="929.6" x2="426.5" y2="929.6" stroke="#008080" stroke-width="4"/>
<text x="441" y="952.30" font-family="'Liberation Serif','Times New Roman',serif" font-size="69.5" textLength="482.0" lengthAdjust="spacingAndGlyphs" stroke="#fff" stroke-width="0.9">Havriliak-Negami</text>
<line x1="273" y1="1011.4" x2="426.5" y2="1011.4" stroke="#800000" stroke-width="4"/>
<text x="441" y="1034.10" font-family="'Liberation Serif','Times New Roman',serif" font-size="69.5" textLength="747.3" lengthAdjust="spacingAndGlyphs" stroke="#fff" stroke-width="0.9">Kohlrausch-Williams-Watts</text>
<circle cx="349" cy="1092.1" r="11.5" fill="none" stroke="#000" stroke-width="1.6"/>
<text x="441" y="1116.00" font-family="'Liberation Serif','Times New Roman',serif" font-size="69.5" textLength="310.7" lengthAdjust="spacingAndGlyphs" stroke="#fff" stroke-width="0.9">Experiment</text>
</svg>
</body></html>
